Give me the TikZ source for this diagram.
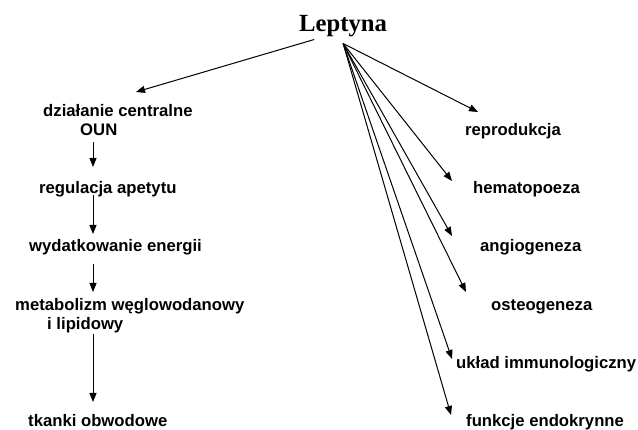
\documentclass[tikz,border=0pt]{standalone}
\usepackage{fontspec}
\setmainfont{Liberation Sans}
\newfontfamily\titlefont{Liberation Serif}
\usetikzlibrary{arrows.meta,calc}
\begin{document}
\begin{tikzpicture}[x=1pt,y=-1pt,
  lbl/.style={anchor=base west,inner sep=0pt,font=\fontsize{16.7}{18}\selectfont\bfseries},
  arr/.style={line width=1pt,-{Triangle[length=9pt,width=7pt]}}]
\useasboundingbox[fill=white] (0,0) rectangle (638,430);
\node[anchor=base west,inner sep=0pt,font=\titlefont\fontsize{24.7}{26}\selectfont\bfseries] (lep) at (299,32) {Leptyna};
% left column
\node[lbl] (dz) at (43,117) {działanie centralne};
\node[lbl] (oun) at (80,136) {OUN};
\node[lbl] (reg) at (39,194) {regulacja apetytu};
\node[lbl] (wyd) at (29,252) {wydatkowanie energii};
\node[lbl] (met) at (15,311) {metabolizm węglowodanowy};
\node[lbl] (lip) at (47,330) {i lipidowy};
\node[lbl] (tk) at (28,427) {tkanki obwodowe};
% right column
\node[lbl] (rep) at (465,136) {reprodukcja};
\node[lbl] (hem) at (473,194) {hematopoeza};
\node[lbl] (ang) at (480,252) {angiogeneza};
\node[lbl] (ost) at (491,311) {osteogeneza};
\node[lbl] (ukl) at (456,369) {układ immunologiczny};
\node[lbl] (fun) at (466,427) {funkcje endokrynne};
% sources
\coordinate (srcL) at ($(lep.south)+(-29,2)$);
\coordinate (srcR) at ($(lep.south)+(0,6)$);
\draw[arr] (srcL) -- ($(dz.base west)+(93,-25)$);
\draw[arr] (srcR) -- ($(rep.base west)+(13,-24)$);
\draw[arr] (srcR) -- ($(hem.base west)+(-21,-13)$);
\draw[arr] (srcR) -- ($(ang.base west)+(-28,-16)$);
\draw[arr] (srcR) -- ($(ost.base west)+(-25,-19)$);
\draw[arr] (srcR) -- ($(ukl.base west)+(-4,-10)$);
\draw[arr] (srcR) -- ($(fun.base west)+(-15,-12)$);
% vertical chain
\draw[arr] ($(oun.base west)+(13,6)$) -- ($(reg.base west)+(54,-27)$);
\draw[arr] ($(reg.base west)+(54,1)$) -- ($(wyd.base west)+(64,-18)$);
\draw[arr] ($(wyd.base west)+(64,12)$) -- ($(met.base west)+(78,-19)$);
\draw[arr] ($(lip.base west)+(46,4)$) -- ($(tk.base west)+(65,-25)$);
\end{tikzpicture}
\end{document}
